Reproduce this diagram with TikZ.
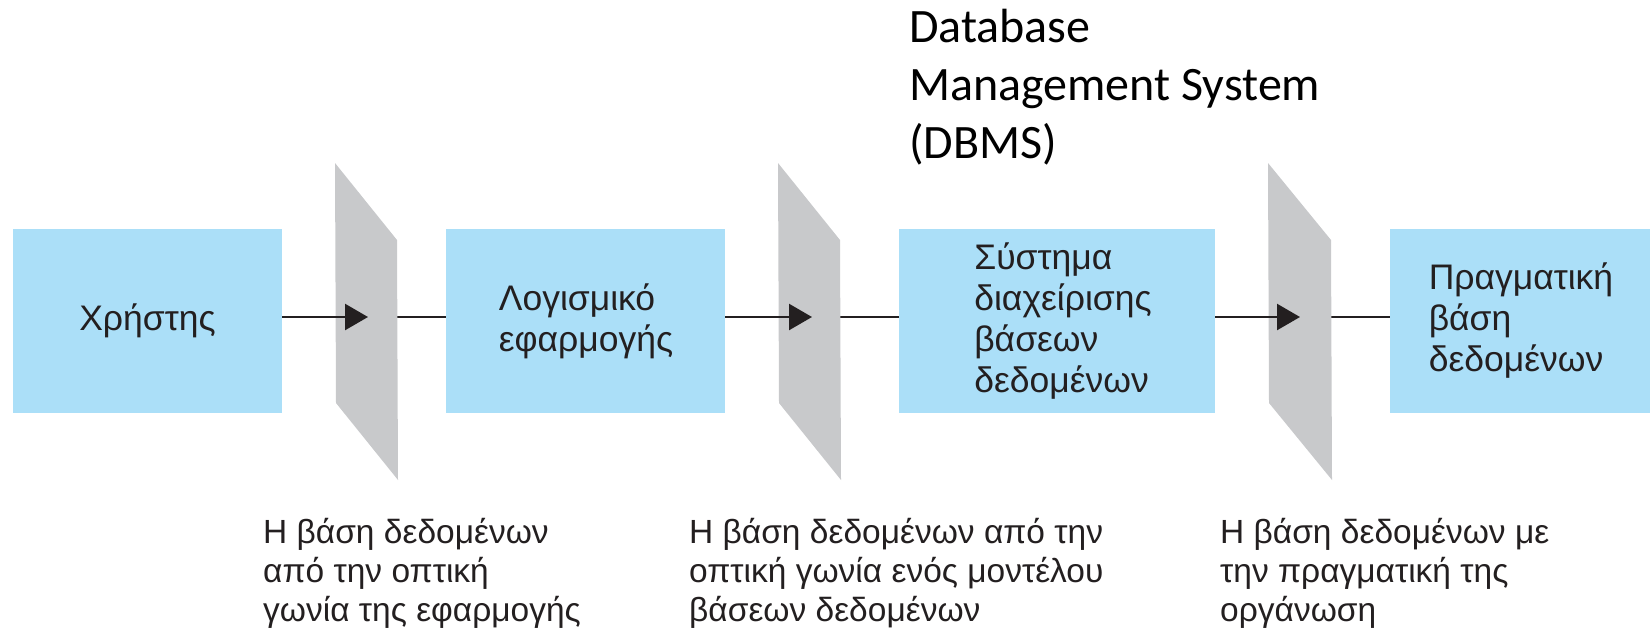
\documentclass[tikz,border=0pt]{standalone}
\usepackage{fontspec}
\setmainfont{Liberation Sans}
\newfontfamily\calfont{Carlito}
\usetikzlibrary{arrows.meta}
\definecolor{boxblue}{RGB}{171,223,248}
\definecolor{panelgray}{RGB}{200,201,203}
\definecolor{ink}{RGB}{35,31,32}
\tikzset{
  blockbox/.style={fill=boxblue, draw=none, inner sep=0pt, text=ink, align=left,
    font=\fontsize{35.5}{41}\selectfont},
  panelshape/.style={fill=panelgray, draw=none},
  conn/.style={draw=ink, line width=2.5pt},
  arr/.style={draw=ink, line width=2.5pt, -{Triangle[length=23pt,width=26pt]}},
  caption/.style={anchor=north west, inner sep=0pt, align=left, text=ink,
    font=\fontsize{33.5}{39}\selectfont},
}
\begin{document}
\begin{tikzpicture}[x=1pt,y=-1pt]
\useasboundingbox (0,0) rectangle (1650,633);
% boxes
\path[fill=boxblue] (13,229) rectangle (282,413);
\node[blockbox] (b1) at (147.5,321) {Χρήστης};
\coordinate (b1e) at (282,317);
\path[fill=boxblue] (446,229) rectangle (725,413);
\node[blockbox] (b2) at (586,321) {Λογισμικό\\εφαρμογής};
\coordinate (b2w) at (446,317);
\coordinate (b2e) at (725,317);
\path[fill=boxblue] (899,229) rectangle (1215,413);
\node[blockbox] (b3) at (1063,321) {Σύστημα\\διαχείρισης\\βάσεων\\δεδομένων};
\coordinate (b3w) at (899,317);
\coordinate (b3e) at (1215,317);
\path[fill=boxblue] (1390,229) rectangle (1650,413);
\node[blockbox] (b4) at (1521,321) {Πραγματική\\βάση\\δεδομένων};
\coordinate (b4w) at (1390,317);
% connector lines (behind panels)
\draw[conn] (b1e) -- (b2w);
\draw[conn] (b2e) -- (b3w);
\draw[conn] (b3e) -- (b4w);
% panels
\path[panelshape] (335,163) -- (397,240) -- (398,480) -- (336,403) -- cycle;
\path[panelshape] (778,163) -- (840,240) -- (841,480) -- (779,403) -- cycle;
\path[panelshape] (1268,163) -- (1331,240) -- (1332,480) -- (1269,403) -- cycle;
% arrow tips on panels
\coordinate (t1) at (368,317);
\coordinate (t2) at (812,317);
\coordinate (t3) at (1300,317);
\draw[arr] (b1e) -- (t1);
\draw[arr] (b2e) -- (t2);
\draw[arr] (b3e) -- (t3);
% captions
\node[caption] (c1) at (263,518) {Η βάση δεδομένων\\από την οπτική\\γωνία της εφαρμογής};
\node[caption] (c2) at (689,518) {Η βάση δεδομένων από την\\οπτική γωνία ενός μοντέλου\\βάσεων δεδομένων};
\node[caption] (c3) at (1220,518) {Η βάση δεδομένων με\\την πραγματική της\\οργάνωση};
% DBMS label
\node[anchor=north west, inner sep=0pt, align=left, text=black,
  font=\calfont\fontsize{48}{58}\selectfont] (dbms) at (909,9) {Database\\Management System\\(DBMS)};
\end{tikzpicture}
\end{document}
